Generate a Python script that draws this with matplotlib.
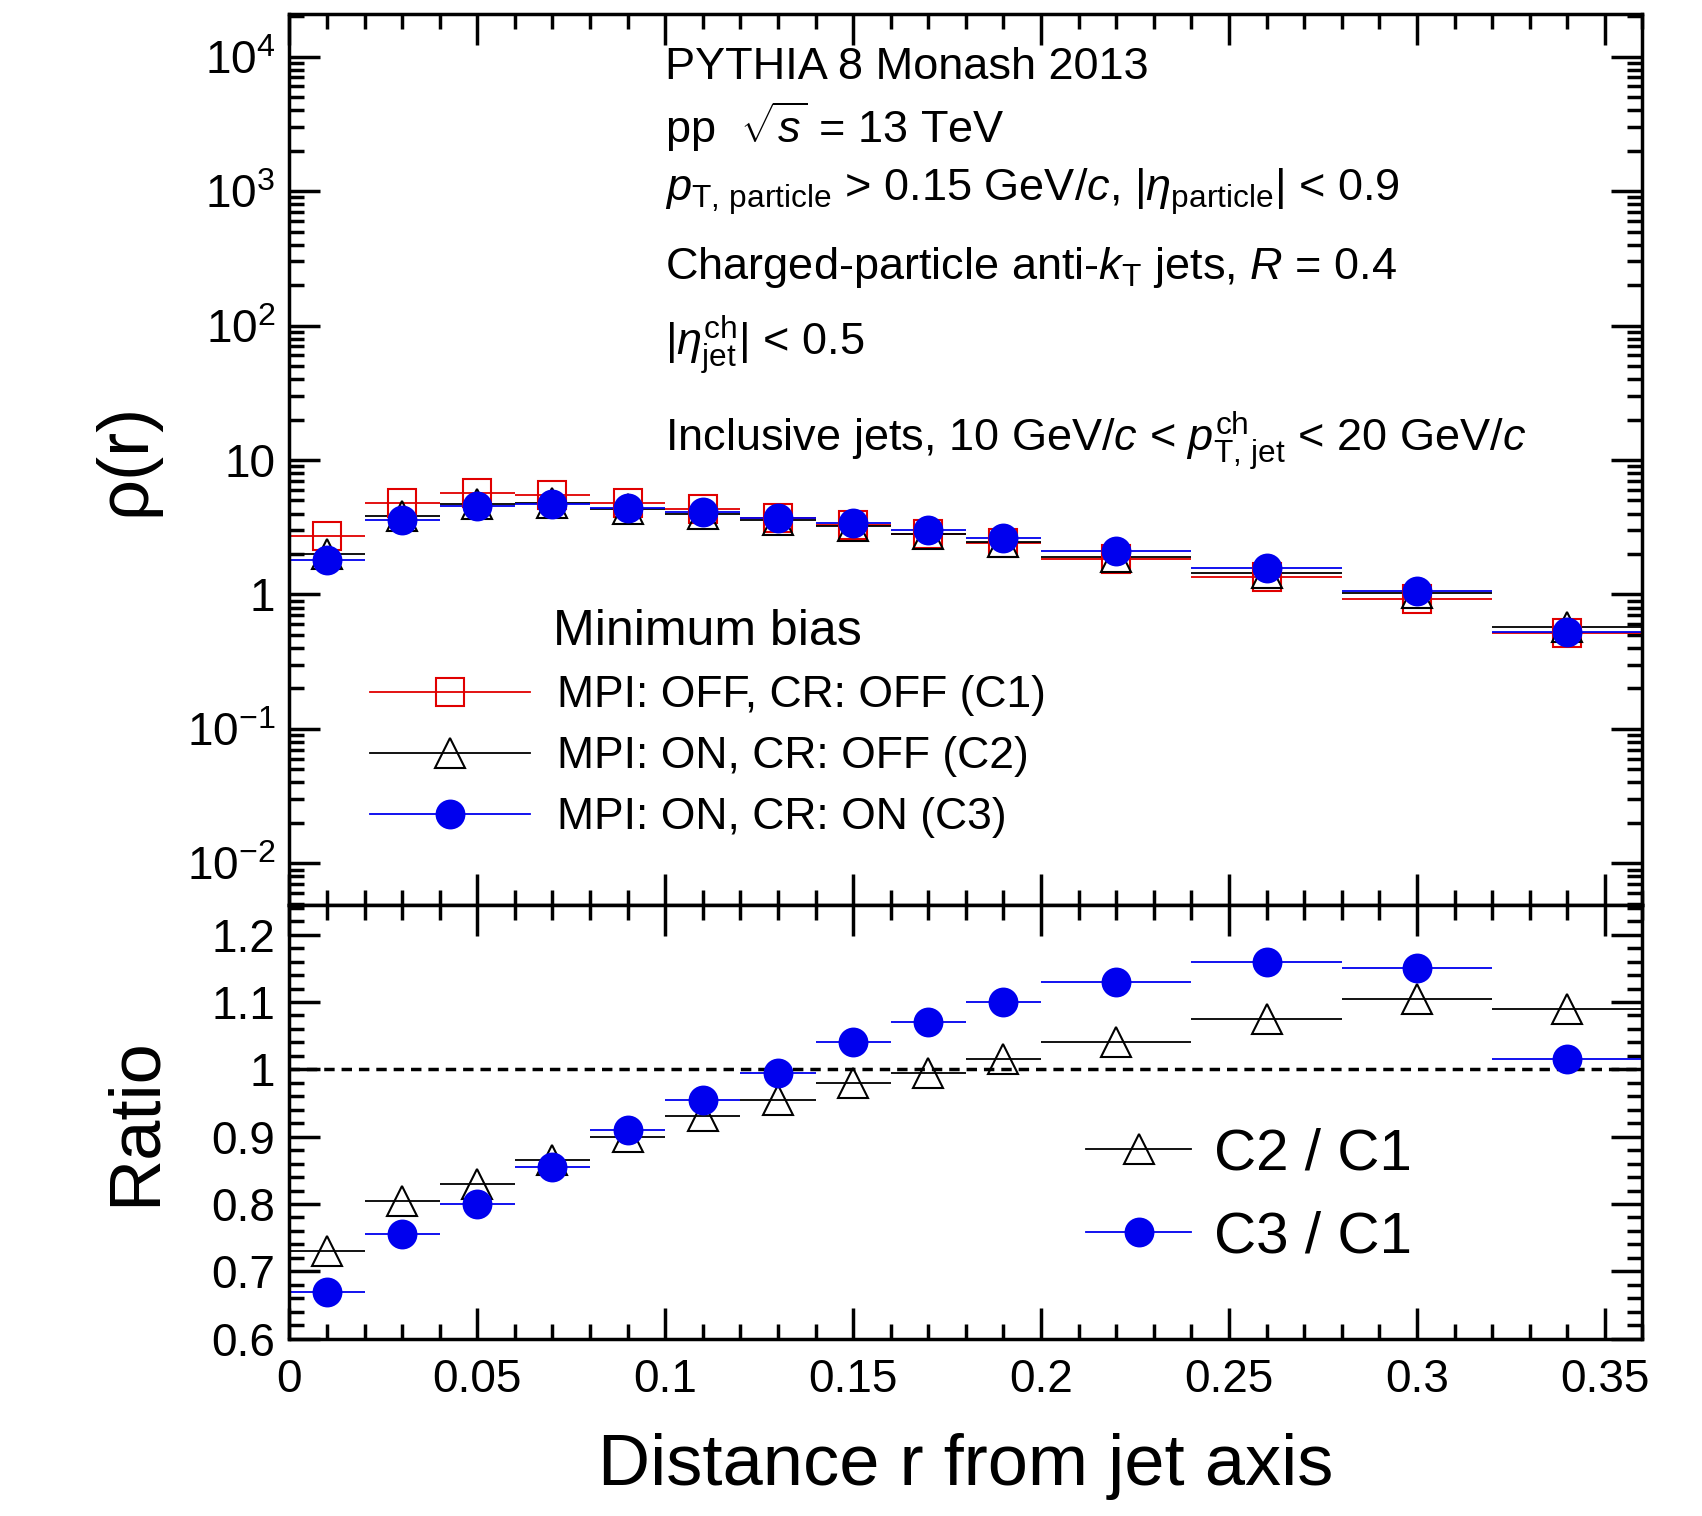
import matplotlib
matplotlib.use("Agg")
import matplotlib.pyplot as plt
import numpy as np
from matplotlib.lines import Line2D
from matplotlib.ticker import LogLocator, FixedLocator, NullFormatter, MultipleLocator

plt.rcParams['font.family'] = ['Liberation Sans', 'DejaVu Sans']
plt.rcParams['mathtext.fontset'] = 'custom'
plt.rcParams['mathtext.rm'] = 'Liberation Sans'
plt.rcParams['mathtext.it'] = 'Liberation Sans:italic'

edges = [0, 0.02, 0.04, 0.06, 0.08, 0.10, 0.12, 0.14, 0.16, 0.18, 0.20, 0.24, 0.28, 0.32, 0.36]
c1 = [2.7, 4.8, 5.7, 5.5, 4.8, 4.3, 3.7, 3.3, 2.8, 2.4, 1.85, 1.35, 0.93, 0.52]
c2 = [2.0, 3.85, 4.7, 4.75, 4.3, 4.0, 3.55, 3.25, 2.8, 2.45, 1.9, 1.45, 1.03, 0.57]
c3 = [1.8, 3.6, 4.55, 4.7, 4.4, 4.1, 3.7, 3.4, 3.0, 2.65, 2.1, 1.57, 1.07, 0.53]
r21 = [0.73, 0.805, 0.83, 0.865, 0.90, 0.93, 0.955, 0.98, 0.995, 1.015, 1.04, 1.075, 1.105, 1.09]
r31 = [0.67, 0.755, 0.80, 0.855, 0.91, 0.955, 0.995, 1.04, 1.07, 1.10, 1.13, 1.16, 1.15, 1.015]

e = np.array(edges)
x = (e[:-1] + e[1:]) / 2
xerr = (e[1:] - e[:-1]) / 2

RED, BLUE = '#e00000', '#0000ee'
fig = plt.figure(figsize=(17.02, 15.16), dpi=100)
ax1 = fig.add_axes([0.17, 0.403, 0.795, 0.588])
ax2 = fig.add_axes([0.17, 0.117, 0.795, 0.286], sharex=ax1)

ms = 20
st = dict(lw=1.3, capsize=0, elinewidth=1.3, markeredgewidth=1.5)
ax1.errorbar(x, c1, xerr=xerr, fmt='s', color=RED, mfc='none', ms=ms, **st)
ax1.errorbar(x, c2, xerr=xerr, fmt='^', color='black', mfc='none', ms=ms+2, **st)
ax1.errorbar(x, c3, xerr=xerr, fmt='o', color=BLUE, mec=BLUE, ms=ms, **st)
ax1.set_yscale('log')
ax1.set_ylim(10**-2.31, 10**4.32)
ax1.set_xlim(0, 0.36)
ax1.yaxis.set_major_locator(FixedLocator([1e-2, 1e-1, 1, 10, 1e2, 1e3, 1e4]))
ax1.set_yticklabels([r'$10^{-2}$', r'$10^{-1}$', '1', '10', r'$10^{2}$', r'$10^{3}$', r'$10^{4}$'])
ax1.yaxis.set_minor_locator(LogLocator(base=10, subs=np.arange(2, 10)))
ax1.yaxis.set_minor_formatter(NullFormatter())
ax1.set_ylabel('ρ(r)', fontsize=52, labelpad=20)
ax1.tick_params(labelbottom=False)

def h(marker, color, fc, size):
    return Line2D([], [], color=color, marker=marker, mfc=fc, mec=color, ms=size, lw=1.3, markeredgewidth=1.5)

handles = [h('s', RED, 'none', ms), h('^', 'black', 'none', ms+2), h('o', BLUE, BLUE, ms)]
labels = ['MPI: OFF, CR: OFF (C1)', 'MPI: ON, CR: OFF (C2)', 'MPI: ON, CR: ON (C3)']
ax1.legend(handles, labels, loc='lower left', bbox_to_anchor=(0.03, 0.03), frameon=False, fontsize=32,
           title='Minimum bias', title_fontsize=36, handlelength=3.6, labelspacing=0.45, handletextpad=0.6)

tx = 0.278
fs = 32.5
ax1.text(tx, 0.94, 'PYTHIA 8 Monash 2013', transform=ax1.transAxes, fontsize=fs, va='center')
ax1.text(tx, 0.873, r'pp  $\sqrt{s}$ = 13 TeV', transform=ax1.transAxes, fontsize=fs, va='center')
ax1.text(tx, 0.80, r'$p_{\rm T,\,particle}$ > 0.15 GeV/$c$, $|\eta_{\rm particle}|$ < 0.9', transform=ax1.transAxes, fontsize=fs, va='center')
ax1.text(tx, 0.715, r'Charged-particle anti-$k_{\rm T}$ jets, $R$ = 0.4', transform=ax1.transAxes, fontsize=fs, va='center')
ax1.text(tx, 0.627, r'$|\eta^{\rm ch}_{\rm jet}|$ < 0.5', transform=ax1.transAxes, fontsize=fs, va='center')
ax1.text(tx, 0.52, r'Inclusive jets, 10 GeV/$c$ < $p^{\rm ch}_{\rm T,\,jet}$ < 20 GeV/$c$', transform=ax1.transAxes, fontsize=fs, va='center')

ax2.axhline(1.0, color='black', ls=(0, (3, 2)), lw=2.5)
ax2.errorbar(x, r21, xerr=xerr, fmt='^', color='black', mfc='none', ms=ms+2, **st)
ax2.errorbar(x, r31, xerr=xerr, fmt='o', color=BLUE, mec=BLUE, ms=ms, **st)
ax2.set_ylim(0.6, 1.244)
ax2.yaxis.set_minor_locator(MultipleLocator(0.02))
ax2.set_yticks([0.6, 0.7, 0.8, 0.9, 1.0, 1.1, 1.2])
ax2.set_yticklabels(['0.6', '0.7', '0.8', '0.9', '1', '1.1', '1.2'])
ax2.xaxis.set_major_locator(FixedLocator([0, 0.05, 0.1, 0.15, 0.2, 0.25, 0.3, 0.35]))
ax2.set_xticklabels(['0', '0.05', '0.1', '0.15', '0.2', '0.25', '0.3', '0.35'])
ax2.xaxis.set_minor_locator(MultipleLocator(0.01))
ax2.set_ylabel('Ratio', fontsize=52, labelpad=30)
ax2.set_xlabel('Distance r from jet axis', fontsize=52, labelpad=22)
ax2.legend([h('^', 'black', 'none', ms+2), h('o', BLUE, BLUE, ms)], ['C2 / C1', 'C3 / C1'],
           loc='lower left', bbox_to_anchor=(0.55, 0.05), frameon=False, fontsize=42,
           handlelength=1.8, labelspacing=0.5, handletextpad=0.4)

for ax in (ax1, ax2):
    ax.tick_params(which='both', direction='in', top=True, right=True, labelsize=33, width=2.5, pad=10)
    ax.tick_params(which='major', length=22)
    ax.tick_params(which='minor', length=11)
    for s in ax.spines.values():
        s.set_linewidth(2.5)
ax2.tick_params(axis='x', pad=14)

fig.savefig('out.png', dpi=100)
